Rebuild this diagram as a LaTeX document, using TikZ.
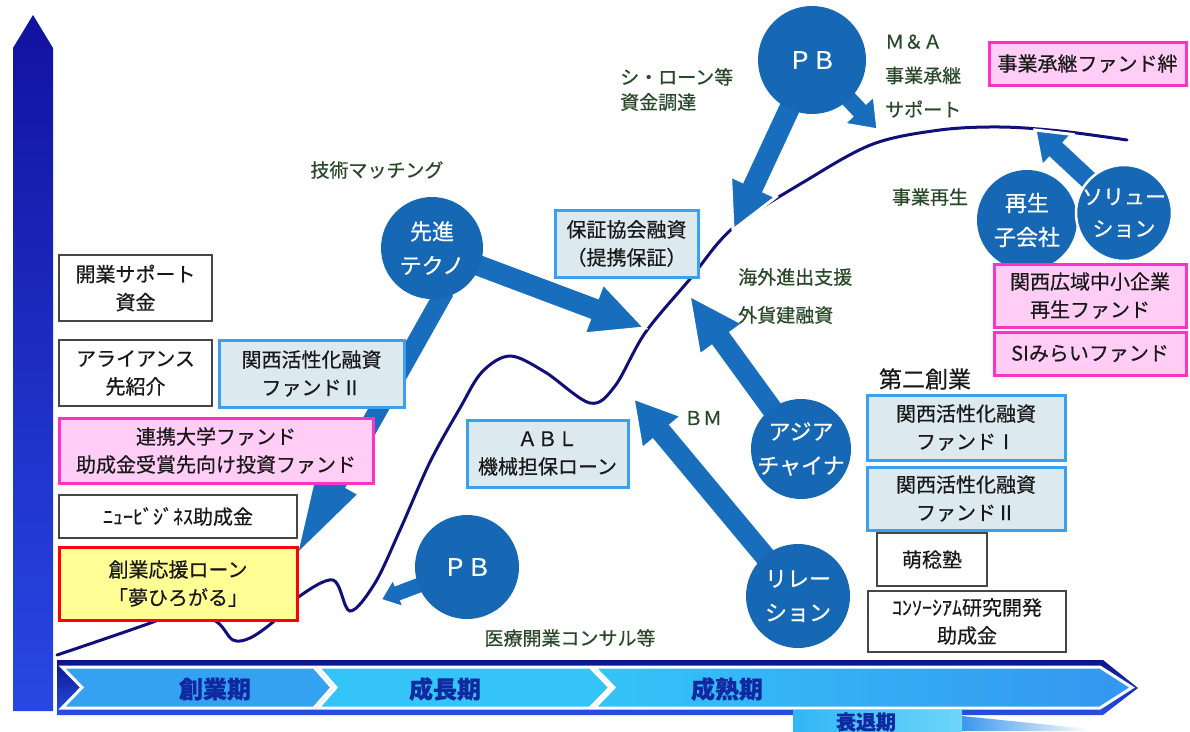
\documentclass[tikz,border=0pt]{standalone}
\usepackage{fontspec}
\setmainfont{Noto Sans CJK JP}[FakeBold=0.5]
\usetikzlibrary{calc}
\definecolor{cblue}{RGB}{22,104,180}
\definecolor{ablue}{RGB}{24,110,188}
\definecolor{curvec}{RGB}{16,16,120}
\definecolor{labg}{RGB}{40,72,40}
\definecolor{bbord}{RGB}{60,160,240}
\definecolor{bfill}{RGB}{220,234,240}
\definecolor{pbord}{RGB}{255,50,200}
\definecolor{pfill}{RGB}{255,205,245}
\definecolor{yfill}{RGB}{255,255,150}
\definecolor{gbord}{RGB}{70,70,70}
\definecolor{tlab}{RGB}{16,40,160}
\definecolor{txt}{RGB}{25,25,25}
\newcommand{\blockarr}[5]{%
  \coordinate (ba-s) at ($(#1)!-10pt!(#2)$);
  \coordinate (ba-h) at ($(#2)!#5!(#1)$);
  \filldraw[fill=ablue, draw=white, line width=3pt, line join=miter]
   ($(ba-s)!#3!90:(#2)$) -- ($(ba-h)!#3!90:(#2)$) -- ($(ba-h)!#4!90:(#2)$) -- (#2)
   -- ($(ba-h)!#4!-90:(#2)$) -- ($(ba-h)!#3!-90:(#2)$) -- ($(ba-s)!#3!-90:(#2)$) -- cycle;}
\tikzset{
  box/.style={rectangle, align=center, text=txt, inner sep=0pt, font=\fontsize{20}{28}\selectfont},
  plainbox/.style={box, draw=gbord, line width=1.8pt, fill=white},
  bluebox/.style={box, draw=bbord, line width=3pt, fill=bfill},
  pinkbox/.style={box, draw=pbord, line width=3pt, fill=pfill},
  yelbox/.style={box, draw=red, line width=3pt, fill=yfill},
  circ/.style={circle, fill=cblue, text=white, align=center, inner sep=-10pt, font=\fontsize{22}{34}\selectfont},
  lab/.style={text=labg, align=left, inner sep=0pt, font=\fontsize{19}{25}\selectfont},
  tl/.style={text=tlab, inner sep=0pt, font=\fontsize{24}{28}\selectfont\bfseries},
  chev/.style={draw=white, line width=3pt, line join=miter}
}
\begin{document}
\begin{tikzpicture}[x=1pt,y=-1pt]
\useasboundingbox (0,0) rectangle (1190,731);
\fill[white] (0,0) rectangle (1190,731);
% vertical axis arrow
\shade[top color={rgb,255:red,18;green,18;blue,160}, bottom color={rgb,255:red,40;green,72;blue,228}]
  (13,48) -- (33,15) -- (53,48) -- (53,711) -- (13,711) -- cycle;
% timeline band
\shade[top color={rgb,255:red,10;green,20;blue,140}, bottom color={rgb,255:red,40;green,80;blue,230}]
  (57,660) -- (1103,660) -- (1138,688) -- (1103,715) -- (57,715) -- cycle;
\filldraw[chev, fill={rgb,255:red,52;green,162;blue,240}]
  (62,667) -- (314,667) -- (332,687.5) -- (314,708) -- (62,708) -- (82,687.5) -- cycle;
\filldraw[chev, fill={rgb,255:red,52;green,196;blue,248}]
  (318,667) -- (590,667) -- (610,687.5) -- (590,708) -- (318,708) -- (336,687.5) -- cycle;
\shade[left color={rgb,255:red,52;green,196;blue,248}, right color={rgb,255:red,52;green,150;blue,240}]
  (594,667) -- (1100,667) -- (1132,687.5) -- (1100,708) -- (594,708) -- (614,687.5) -- cycle;
\draw[chev] (594,667) -- (1100,667) -- (1132,687.5) -- (1100,708) -- (594,708) -- (614,687.5) -- cycle;
\shade[left color={rgb,255:red,60;green,150;blue,235}, right color=white]
  (962,716) -- (1090,729) -- (1090,731) -- (962,731) -- cycle;
\shade[left color={rgb,255:red,48;green,182;blue,245}, right color={rgb,255:red,110;green,214;blue,250}]
  (793,710) rectangle (962,731);
\node[tl] (t1) at (215,689) {創業期};
\node[tl] (t2) at (445,689) {成長期};
\node[tl] (t3) at (727,689) {成熟期};
\node[tl, font=\fontsize{20}{24}\selectfont\bfseries] (t4) at (866,722) {衰退期};
% growth curve
\draw[curvec, line width=3pt, line cap=round] plot[smooth, tension=0.55] coordinates {
  (57,655) (153,622) (185,607) (217,622) (233,640) (250,638) (273,622) (297,598) (333,580)
  (350,611) (375,583) (400,530) (430,462) (460,408) (482,372) (510,356) (545,372) (590,403)
  (615,386) (645,333) (690,279) (733,228) (807,180) (873,144) (940,130) (1000,127) (1060,131) (1127,140)};
% arrow targets
\coordinate (c1) at (645,328);
\coordinate (c2) at (296,556);
\coordinate (c3) at (733,230);
\coordinate (c4) at (878,130);
\coordinate (c5) at (1035,130);
\coordinate (c6) at (689,295);
\coordinate (c7) at (633,398);
\coordinate (c8) at (380,600);
% circle places (named first so the arrows can start from them)
\path (432,248) node[circle, minimum size=102pt, inner sep=0pt] (tek) {};
\path (812,60) node[circle, minimum size=108pt, inner sep=0pt] (pbt) {};
\path (467,567) node[circle, minimum size=104pt, inner sep=0pt] (pbb) {};
\path (801,449) node[circle, minimum size=100pt, inner sep=0pt] (asia) {};
\path (798,596) node[circle, minimum size=104pt, inner sep=0pt] (rel) {};
\path (1124,213) node[circle, minimum size=96pt, inner sep=0pt] (sol) {};
% block arrows
\blockarr{tek.center}{c1}{12pt}{27pt}{55pt}
\blockarr{tek.-80}{c2}{11pt}{25pt}{85pt}
\blockarr{pbt.center}{c3}{12pt}{25pt}{48pt}
\blockarr{pbt.center}{c4}{10pt}{21pt}{28pt}
\blockarr{sol.center}{c5}{11pt}{22pt}{30pt}
\blockarr{asia.center}{c6}{12pt}{27pt}{55pt}
\blockarr{rel.center}{c7}{12pt}{26pt}{45pt}
\blockarr{pbb.center}{c8}{9pt}{16pt}{20pt}
% circles
\node[circ, minimum size=102pt] (tekc) at (tek) {先進\\テクノ};
\node[circ, minimum size=108pt, font=\fontsize{24}{30}\selectfont] (pbtc) at (pbt) {ＰＢ};
\node[circ, minimum size=104pt, font=\fontsize{24}{30}\selectfont] (pbbc) at (pbb) {ＰＢ};
\node[circ, minimum size=100pt] (asiac) at (asia) {アジア\\チャイナ};
\node[circ, minimum size=104pt] (relc) at (rel) {リレー\\ション};
\node[circ, minimum size=100pt] (saisei) at (1027,220) {再生\\子会社};
\node[circ, minimum size=96pt, draw=white, line width=2.5pt, font=\fontsize{21}{32}\selectfont] (solc) at (sol) {ソリュー\\ション};
% left boxes
\node[plainbox, minimum width=153pt, minimum height=66pt] (kaigyo) at (135.5,288) {開業サポート\\資金};
\node[plainbox, minimum width=153pt, minimum height=66pt] (alli) at (135.5,373) {アライアンス\\先紹介};
\node[bluebox, minimum width=185pt, minimum height=67pt] (f2l) at (311.5,373.5) {関西活性化融資\\ファンドⅡ};
\node[pinkbox, minimum width=314pt, minimum height=65pt] (renkei) at (216,450.5) {連携大学ファンド\\助成金受賞先向け投資ファンド};
\node[plainbox, minimum width=238pt, minimum height=43pt] (newbiz) at (178,516.5) {ﾆｭｰﾋﾞｼﾞﾈｽ助成金};
\node[yelbox, minimum width=238pt, minimum height=73pt] (sogyo) at (178,583.5) {創業応援ローン\\「夢ひろがる」};
% middle boxes
\node[bluebox, minimum width=143pt, minimum height=67pt] (hosho) at (626.5,243.5) {保証協会融資\\（提携保証）};
\node[bluebox, minimum width=161pt, minimum height=67pt] (abl) at (547.5,453.5) {ＡＢＬ\\機械担保ローン};
% right boxes
\node[pinkbox, minimum width=197pt, minimum height=43pt] (kizuna) at (1087.5,63.5) {事業承継ファンド絆};
\node[pinkbox, minimum width=192pt, minimum height=63pt] (kansai) at (1090,295.5) {関西広域中小企業\\再生ファンド};
\node[pinkbox, minimum width=192pt, minimum height=43pt] (simirai) at (1090,353.5) {SIみらいファンド};
\node[text=txt, inner sep=0pt, font=\fontsize{23}{28}\selectfont] (daini) at (925,379) {第二創業};
\node[bluebox, minimum width=198pt, minimum height=65pt] (f1r) at (966,427.5) {関西活性化融資\\ファンドⅠ};
\node[bluebox, minimum width=198pt, minimum height=63pt] (f2r) at (966,498.5) {関西活性化融資\\ファンドⅡ};
\node[plainbox, minimum width=110pt, minimum height=53pt] (hounen) at (932,559.5) {萌稔塾};
\node[plainbox, minimum width=198pt, minimum height=61pt] (consort) at (967,621.5) {ｺﾝｿｰｼｱﾑ研究開発\\助成金};
% green labels
\node[lab] (gijutsu) at (377,170) {技術マッチング};
\node[lab, anchor=west] (siloan) at (620,89.5) {シ・ローン等\\資金調達};
\node[lab, anchor=west, font=\fontsize{19}{34}\selectfont] (ma) at (885,76) {Ｍ＆Ａ\\事業承継\\サポート};
\node[lab] (jsaisei) at (930,197) {事業再生};
\node[lab, anchor=west, font=\fontsize{19}{38}\selectfont] (kaigai) at (738,296) {海外進出支援\\外貨建融資};
\node[lab] (bm) at (703,418) {ＢＭ};
\node[lab] (iryo) at (570,638) {医療開業コンサル等};
\end{tikzpicture}
\end{document}
